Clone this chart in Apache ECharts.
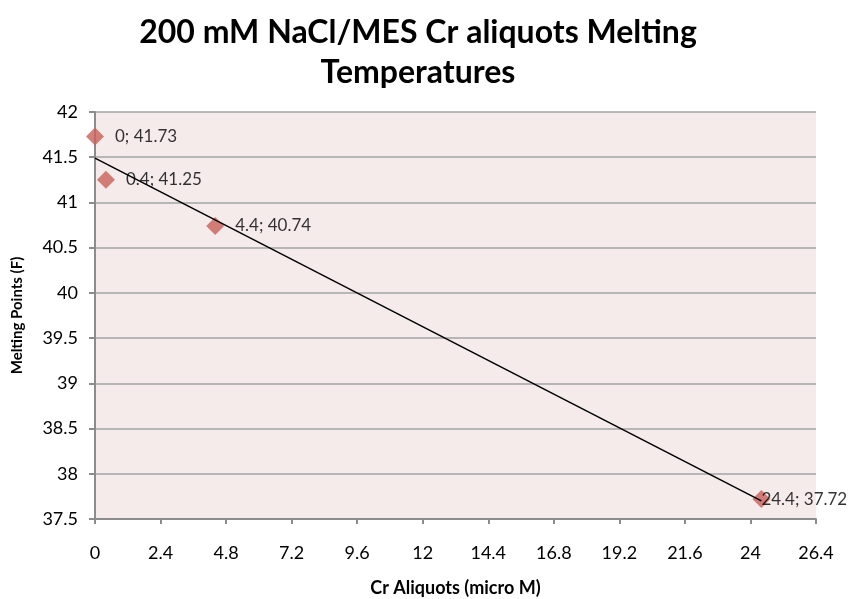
<!DOCTYPE html>
<html>
<head>
<meta charset="utf-8">
<script src="https://cdn.jsdelivr.net/npm/echarts@6/dist/echarts.min.js"></script>
<style>
  html, body { margin: 0; padding: 0; background: #fff; }
  #chart { width: 848px; height: 599px; }
</style>
</head>
<body>
<div id="chart"></div>
<script>
// measured points (Cr aliquot in micro M, melting point in F)
const crAliquots = [0, 0.4, 4.4, 24.4];
const meltingPoints = [41.73, 41.25, 40.74, 37.72];
// linear trendline endpoints
const trendX = [0, 24.4];
const trendY = [41.49, 37.70];

const chart = echarts.init(document.getElementById('chart'));

const font = 'Lato, "Open Sans", sans-serif';
const axisGray = '#8c8c8c';

// last label sits on top of its marker, like in the original
const pointData = crAliquots.map((x, i) => {
  const item = { value: [x, meltingPoints[i]] };
  if (i === crAliquots.length - 1) item.label = { distance: -9 };
  return item;
});

const option = {
  animation: false,
  backgroundColor: '#ffffff',
  title: {
    text: '200 mM NaCl/MES Cr aliquots Melting\nTemperatures',
    left: 413,
    textAlign: 'center',
    top: 8,
    textStyle: {
      fontFamily: font,
      fontWeight: 'bold',
      fontSize: 32,
      lineHeight: 40,
      color: '#000'
    }
  },
  grid: {
    left: 95,
    right: 32,
    top: 112,
    bottom: 80,
    outerBoundsMode: 'none',
    containLabel: false,
    show: true,
    backgroundColor: '#f4ebea',
    borderWidth: 0
  },
  xAxis: {
    type: 'value',
    min: 0,
    max: 26.4,
    interval: 2.4,
    name: 'Cr Aliquots (micro M)',
    nameLocation: 'middle',
    nameGap: 60,
    nameTextStyle: { fontFamily: font, fontWeight: 'bold', fontSize: 18, color: '#000' },
    axisLine: { lineStyle: { color: axisGray, width: 2 } },
    axisTick: { show: true, length: 5, lineStyle: { color: axisGray, width: 2 } },
    splitLine: { show: false },
    axisLabel: {
      fontFamily: font, fontSize: 18, color: '#000', margin: 25,
      formatter: v => String(Math.round(v * 10) / 10)
    }
  },
  yAxis: {
    type: 'value',
    min: 37.5,
    max: 42,
    interval: 0.5,
    name: 'Melting Points (F)',
    nameLocation: 'middle',
    nameGap: 70,
    nameRotate: 90,
    nameTextStyle: { fontFamily: font, fontWeight: 'bold', fontSize: 15, color: '#000' },
    axisLine: { show: true, lineStyle: { color: axisGray, width: 2 } },
    axisTick: { show: true, length: 6, lineStyle: { color: axisGray, width: 2 } },
    splitLine: { show: true, lineStyle: { color: '#a3a3a3', width: 1.5 } },
    axisLabel: { fontFamily: font, fontSize: 18, color: '#000', margin: 17 }
  },
  series: [
    {
      type: 'line',
      data: trendX.map((x, i) => [x, trendY[i]]),
      showSymbol: false,
      symbol: 'none',
      lineStyle: { color: '#000', width: 1.5 },
      z: 3
    },
    {
      type: 'scatter',
      data: pointData,
      symbol: 'diamond',
      symbolSize: [18, 18],
      itemStyle: { color: '#c9605b' },
      labelLayout: { hideOverlap: false },
      label: {
        show: true,
        position: 'right',
        distance: 11,
        fontFamily: font,
        fontSize: 17,
        color: '#000',
        overflow: 'none',
        width: 200,
        formatter: p => p.value[0] + '; ' + p.value[1]
      },
      z: 2
    }
  ]
};

chart.setOption(option);
</script>
</body>
</html>
